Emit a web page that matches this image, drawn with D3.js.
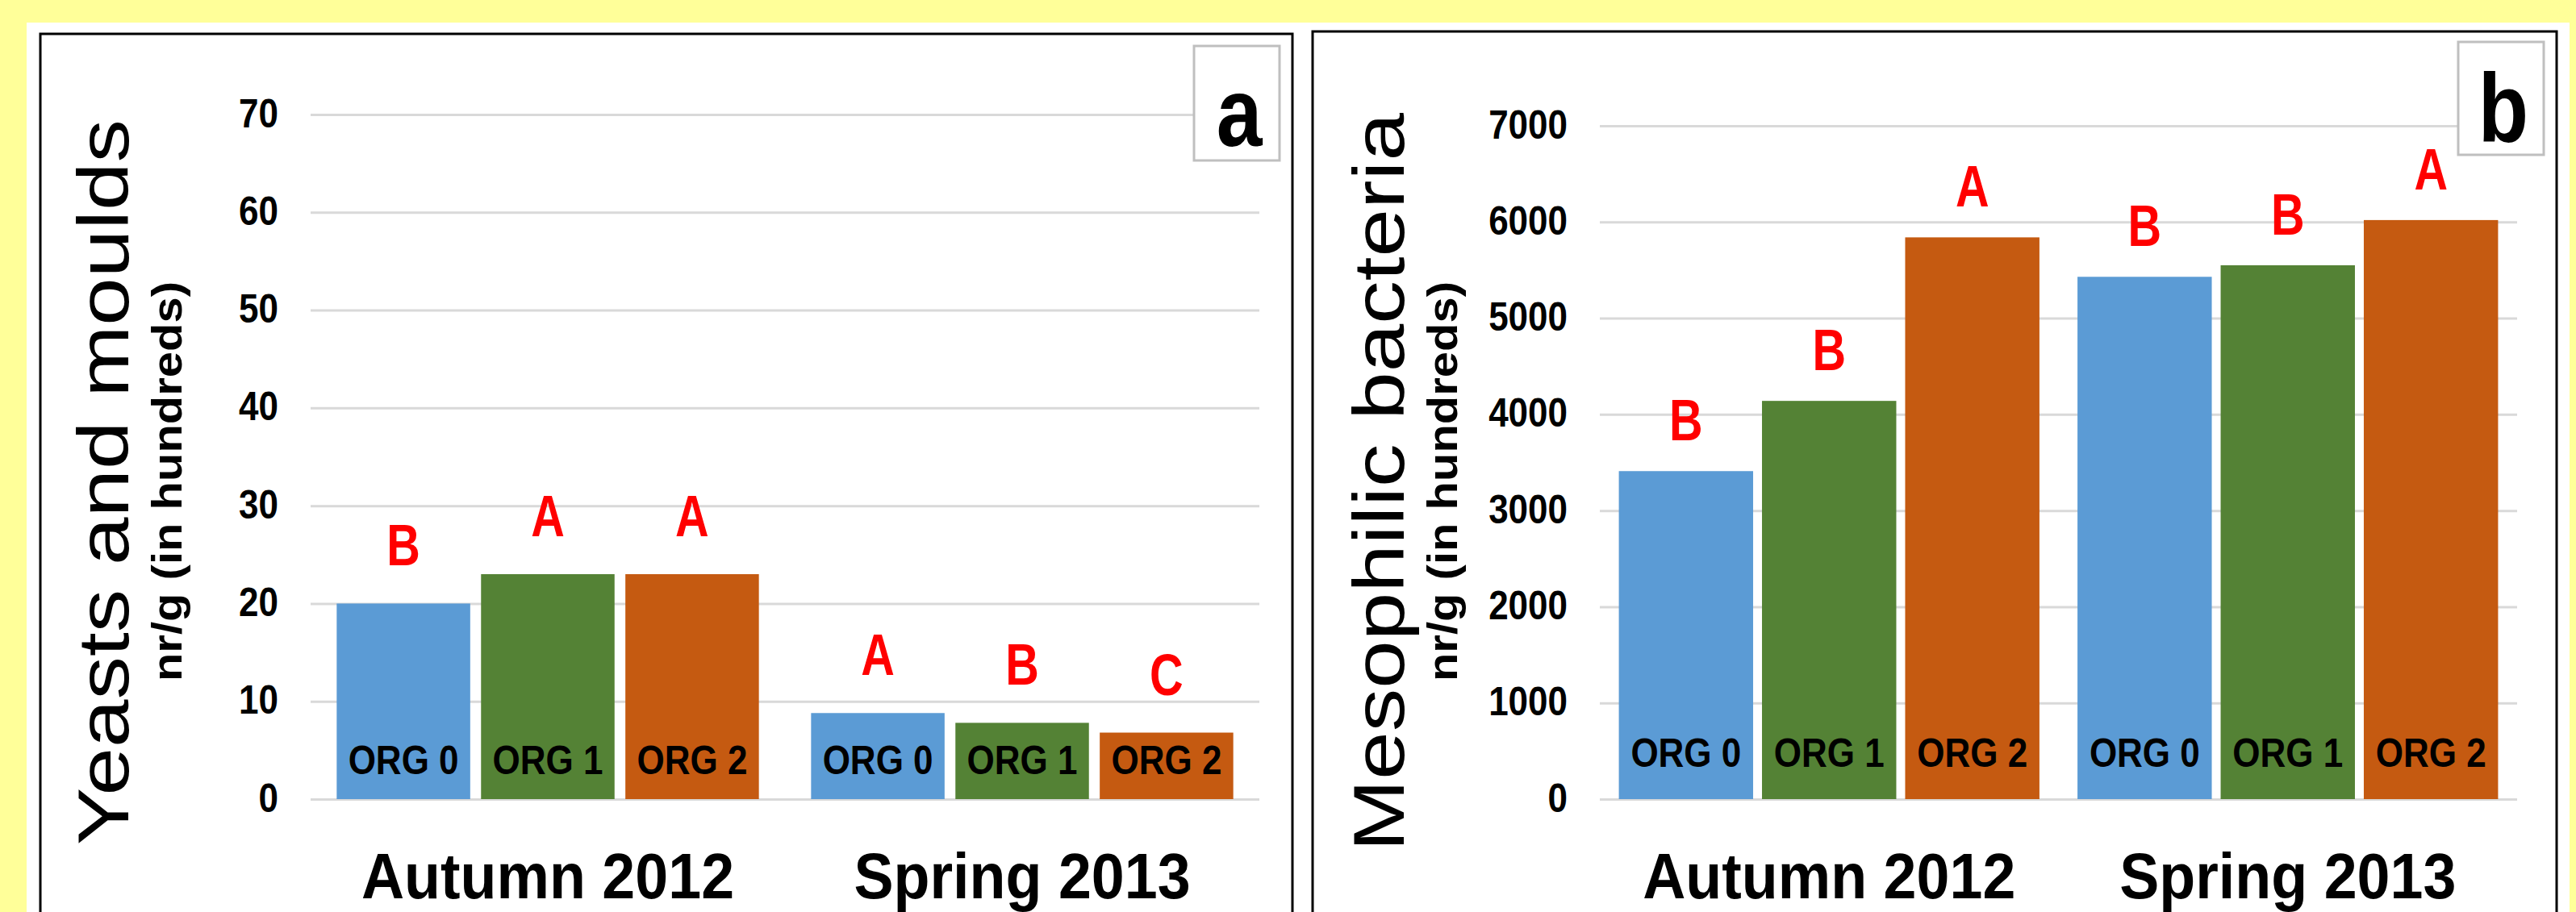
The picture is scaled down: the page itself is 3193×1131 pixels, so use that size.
<!DOCTYPE html>
<html>
<head>
<meta charset="utf-8">
<script src="https://cdn.jsdelivr.net/npm/d3@7"></script>
<style>
  body { margin: 0; background: #ffff99; }
  svg { display: block; }
  text { font-family: "Liberation Sans", Arial, sans-serif; }
</style>
</head>
<body>
<svg id="chart" width="3193" height="1131"></svg>
<script>
// data
const seasons = ["Autumn 2012", "Spring 2013"];
const treatments = ["ORG 0", "ORG 1", "ORG 2"];
const barColors = ["#5b9bd5", "#548235", "#c55a11"];

// yeasts and moulds, nr/g (in hundreds), [season][treatment]
const yeastValues = [[20, 23, 23], [8.8, 7.8, 6.8]];
const yeastLetters = [["B", "A", "A"], ["A", "B", "C"]];
const yeastTicks = [0, 10, 20, 30, 40, 50, 60, 70];

// mesophilic bacteria, nr/g (in hundreds)
const bacteriaValues = [[3410, 4140, 5840], [5430, 5550, 6020]];
const bacteriaLetters = [["B", "B", "A"], ["B", "B", "A"]];
const bacteriaTicks = [0, 1000, 2000, 3000, 4000, 5000, 6000, 7000];

let svg = d3.select("#chart");

// white sheet behind both panels
svg.append("rect")
  .attr("x", 33).attr("y", 28)
  .attr("width", 3152).attr("height", 1200)
  .attr("fill", "#fff");

let panels = [
  { values: yeastValues, letters: yeastLetters, ticks: yeastTicks,
    title: "Yeasts and moulds", tag: "a",
    frame: [50, 42, 1552], xr: [385, 1561], yr: [991, 142],
    outerPad: 0.11, innerPad: 0.075,
    titleX: 159, subX: 225, tickGap: 40,
    box: [1480, 57, 106, 142], orgOff: 31, letterGap: 47 },
  { values: bacteriaValues, letters: bacteriaLetters, ticks: bacteriaTicks,
    title: "Mesophilic bacteria", tag: "b",
    frame: [1627, 39, 1542], xr: [1983, 3120], yr: [991, 156],
    outerPad: 0.083, innerPad: 0.062,
    titleX: 1740, subX: 1806, tickGap: 40,
    box: [3047, 52, 106, 140], orgOff: 40, letterGap: 38 }
];

// squeeze text horizontally, the source figure is a bit narrow
function place(sel, x, y, sx, rot) {
  sel.attr("transform", "translate(" + x + "," + y + ") scale(" + sx + ",1)" + (rot ? " rotate(" + rot + ")" : ""));
}

panels.forEach(function(p) {
  svg.append("rect")
    .attr("x", p.frame[0]).attr("y", p.frame[1])
    .attr("width", p.frame[2]).attr("height", 1200)
    .attr("fill", "#fff").attr("stroke", "#000").attr("stroke-width", 3);

  let x0 = d3.scaleBand().domain(seasons).range(p.xr)
    .paddingInner(p.outerPad).paddingOuter(p.outerPad / 2);
  let x1 = d3.scaleBand().domain(treatments).range([0, x0.bandwidth()])
    .paddingInner(p.innerPad);
  let y = d3.scaleLinear().domain([0, p.ticks[p.ticks.length - 1]]).range(p.yr);
  let plotW = p.xr[1] - p.xr[0];

  // gridlines + tick labels
  let ax = svg.append("g")
    .attr("transform", "translate(" + p.xr[0] + ",0)")
    .call(d3.axisLeft(y).tickValues(p.ticks).tickFormat(d3.format("d"))
      .tickSize(-plotW).tickPadding(0));
  ax.select(".domain").remove();
  ax.selectAll(".tick line").attr("stroke", "#d9d9d9").attr("stroke-width", 3);
  ax.selectAll(".tick text")
    .attr("x", null).attr("dy", "0.3em")
    .attr("font-size", 50).attr("font-weight", "bold").attr("fill", "#000")
    .attr("font-family", '"Liberation Sans", Arial, sans-serif')
    .attr("text-anchor", "end")
    .attr("transform", "translate(" + (-p.tickGap) + ",0) scale(0.88,1)");

  // bars
  let groups = svg.selectAll(null)
    .data(seasons)
    .enter().append("g")
    .attr("transform", (d) => "translate(" + x0(d) + ",0)");

  groups.each(function(season, si) {
    let g = d3.select(this);
    let rows = treatments.map((t, ti) => ({ t: t, ti: ti, v: p.values[si][ti], l: p.letters[si][ti] }));

    g.selectAll("rect")
      .data(rows)
      .enter().append("rect")
      .attr("x", (d) => x1(d.t))
      .attr("y", (d) => y(d.v))
      .attr("width", x1.bandwidth())
      .attr("height", (d) => y(0) - y(d.v))
      .attr("fill", (d) => barColors[d.ti]);

    g.selectAll(".org")
      .data(rows)
      .enter().append("text")
      .attr("class", "org")
      .attr("text-anchor", "middle")
      .attr("font-size", 50).attr("font-weight", "bold")
      .text((d) => d.t)
      .each(function(d) {
        place(d3.select(this), x1(d.t) + x1.bandwidth() / 2, y(0) - p.orgOff, 0.88);
      });

    g.selectAll(".sig")
      .data(rows)
      .enter().append("text")
      .attr("class", "sig")
      .attr("text-anchor", "middle")
      .attr("font-size", 72).attr("font-weight", "bold")
      .attr("fill", "#ff0000")
      .text((d) => d.l)
      .each(function(d) {
        place(d3.select(this), x1(d.t) + x1.bandwidth() / 2, y(d.v) - p.letterGap, 0.8);
      });

    g.append("text")
      .attr("text-anchor", "middle")
      .attr("font-size", 80).attr("font-weight", "bold")
      .text(season)
      .call(place, x0.bandwidth() / 2, 1114, 0.92);
  });

  // axis titles
  svg.append("text")
    .attr("text-anchor", "middle")
    .attr("font-size", 107)
    .text(p.title)
    .call(place, p.titleX, 598, 0.83, -90);

  svg.append("text")
    .attr("text-anchor", "middle")
    .attr("font-size", 58).attr("font-weight", "bold")
    .text("nr/g (in hundreds)")
    .call(place, p.subX, 597, 0.88, -90);

  // panel tag box
  svg.append("rect")
    .attr("x", p.box[0]).attr("y", p.box[1])
    .attr("width", p.box[2]).attr("height", p.box[3])
    .attr("fill", "#fff").attr("stroke", "#bfbfbf").attr("stroke-width", 3);

  svg.append("text")
    .attr("text-anchor", "middle")
    .attr("font-size", 120).attr("font-weight", "bold")
    .text(p.tag)
    .call(place, p.box[0] + p.box[2] / 2 + 3, p.box[1] + 124, 0.85);
});
</script>
</body>
</html>
